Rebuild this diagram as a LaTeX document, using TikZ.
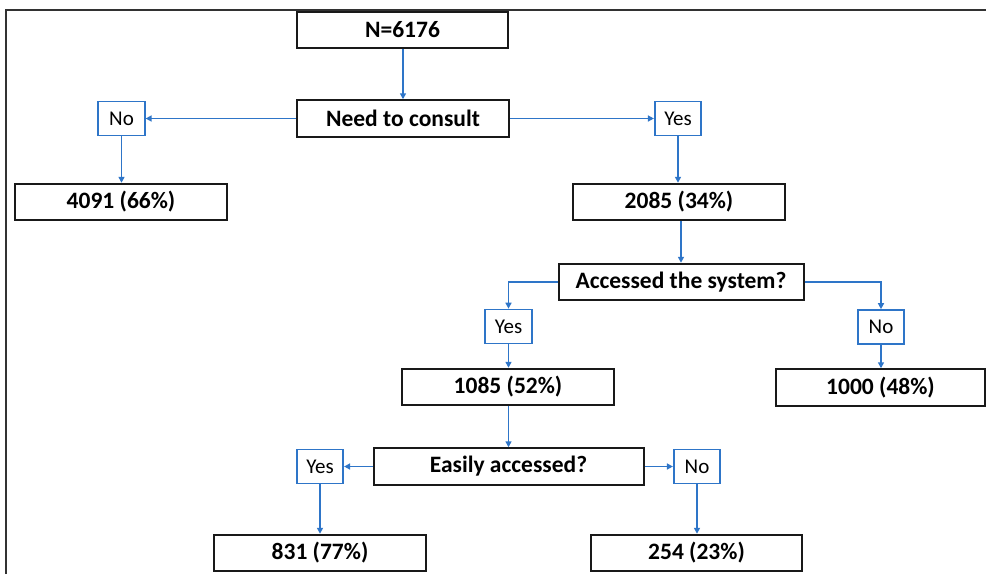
\documentclass[tikz,border=0pt]{standalone}
\usepackage{fontspec}
\setmainfont{Carlito}
\usetikzlibrary{arrows.meta}
\definecolor{myblue}{RGB}{46,117,200}
\definecolor{frame}{RGB}{50,50,50}
\begin{document}
\begin{tikzpicture}[x=1pt,y=-1pt,
  bigbox/.style={draw=black!90,line width=2pt,fill=white,inner sep=0pt,minimum width=#1,minimum height=36.5pt,font=\fontsize{23.5}{26}\selectfont\bfseries},
  bigbox/.default=212pt,
  smallbox/.style={draw=myblue,line width=1.7pt,fill=white,inner sep=0pt,minimum width=46.5pt,minimum height=34pt,font=\fontsize{21}{24}\selectfont},
  arr/.style={draw=myblue,line width=1.5pt,-{Triangle[length=6pt,width=6pt]}}]
\useasboundingbox (0,0) rectangle (986,574);
\fill[white] (0,0) rectangle (986,574);
\draw[frame,line width=2pt] (6,574) -- (6,10) -- (986,10);

\node[bigbox=211pt] (n) at (402.5,30) {N=6176};
\node[bigbox] (need) at (403,118.5) {Need to consult};
\node[smallbox] (noA) at (121.5,118.5) {No};
\node[smallbox] (yesA) at (678,118.5) {Yes};
\node[bigbox] (b4091) at (121,202) {4091 (66\%)};
\node[bigbox] (b2085) at (679,202) {2085 (34\%)};
\node[bigbox=245pt] (acc) at (681,282) {Accessed the system?};
\node[smallbox] (yesB) at (508.5,326.5) {Yes};
\node[smallbox] (noB) at (881,327) {No};
\node[bigbox] (b1085) at (508,387) {1085 (52\%)};
\node[bigbox=209pt] (b1000) at (880.5,387.5) {1000 (48\%)};
\node[bigbox=270pt] (easy) at (508.5,466.5) {Easily accessed?};
\node[smallbox] (yesC) at (320,466.5) {Yes};
\node[smallbox] (noC) at (697,466.5) {No};
\node[bigbox] (b831) at (320,553) {831 (77\%)};
\node[bigbox=211pt] (b254) at (696.5,553) {254 (23\%)};

\draw[arr] (n.south -| need.north) -- (need.north);
\draw[arr] (need.west) -- (noA.east);
\draw[arr] (need.east) -- (yesA.west);
\draw[arr] (noA.south) -- (noA.south |- b4091.north);
\draw[arr] (yesA.south) -- (yesA.south |- b2085.north);
\draw[arr] (b2085.south -| acc.north) -- (acc.north);
\draw[arr] (acc.west) -| (yesB.north);
\draw[arr] (acc.east) -| (noB.north);
\draw[arr] (yesB.south) -- (yesB.south |- b1085.north);
\draw[arr] (noB.south) -- (noB.south |- b1000.north);
\draw[arr] (b1085.south -| easy.north) -- (easy.north);
\draw[arr] (easy.west) -- (yesC.east);
\draw[arr] (easy.east) -- (noC.west);
\draw[arr] (yesC.south) -- (b831.north);
\draw[arr] (noC.south) -- (noC.south |- b254.north);
\end{tikzpicture}
\end{document}
